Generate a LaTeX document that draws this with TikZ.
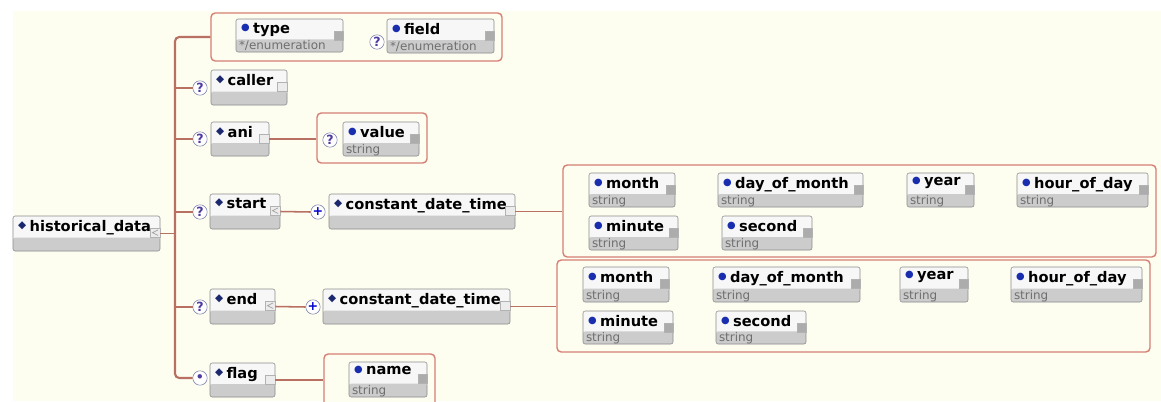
\documentclass[tikz,border=0pt]{standalone}
\usepackage{fontspec}
\setmainfont{DejaVu Sans}
\usetikzlibrary{positioning, fit, calc}

\definecolor{bgcream}{RGB}{253,253,240}
\definecolor{linkred}{RGB}{184,112,98}
\definecolor{grpred}{RGB}{214,128,116}
\definecolor{boxline}{RGB}{140,140,140}
\definecolor{boxlow}{RGB}{204,204,204}
\definecolor{boxtop}{RGB}{247,247,247}
\definecolor{typegrey}{RGB}{110,110,110}
\definecolor{mknavy}{RGB}{28,40,110}
\definecolor{mkblue}{RGB}{25,45,175}
\definecolor{qline}{RGB}{120,125,170}
\definecolor{qtext}{RGB}{80,60,160}

\NewDocumentCommand{\mkdia}{}{\raisebox{1.8pt}{\textcolor{mknavy}{\fontsize{7.5}{8}\selectfont ◆}}}
\NewDocumentCommand{\mkdot}{}{\raisebox{1.8pt}{\textcolor{mkblue}{\fontsize{7}{7}\selectfont ●}}}
% box, name, type and icon of one element
\NewDocumentCommand{\elem}{m m m m m m m}{%
  \node[elembox, fit={(#2) (#3)}] (#1) {};
  \node[elemname] (#1-name) at ($(#1.north west)+(5,4)$) {#4\kern2.5pt#5};
  \node[elemtype] (#1-type) at ($(#1.south west)+(3,-3)$) {#6};
  \node[#7] (#1-icon) at ($(#1.north east)+(-5,17)$) {};
}

\begin{document}
\begin{tikzpicture}[x=0.025cm, y=-0.025cm,
    elembox/.style={draw=boxline, fill=boxtop, rounded corners=1.5pt, inner sep=0pt,
      path picture={\fill[boxlow] (path picture bounding box.south west) rectangle
        ($(path picture bounding box.north east)!0.62!(path picture bounding box.south east)$);}},
    elemname/.style={anchor=north west, inner sep=0pt, font=\bfseries\fontsize{10.4}{12}\selectfont},
    elemtype/.style={anchor=base west, inner sep=0pt, text=typegrey, font=\fontsize{8.5}{10}\selectfont},
    grp/.style={draw=grpred, line width=1pt, rounded corners=3pt, fill=bgcream, inner sep=0pt},
    link/.style={draw=linkred, line width=1.1pt},
    spine/.style={draw=linkred, line width=1.5pt, rounded corners=3pt},
    opt/.style={circle, draw=qline, fill=white, minimum size=0.36cm, inner sep=0pt,
      text=qtext, font=\bfseries\fontsize{9}{9}\selectfont},
    plus/.style={opt, text=blue!80!black},
    iconsimple/.style={rectangle, draw=gray!60, fill=gray!65, minimum size=0.225cm, inner sep=0pt},
    iconcomplex/.style={rectangle, draw=gray!60, fill=gray!15, minimum size=0.24cm, inner sep=0pt},
    iconseq/.style={iconcomplex, path picture={\draw[gray!75, line width=0.5pt]
      ($(path picture bounding box.north east)+(-2,2)$) -- ($(path picture bounding box.west)+(2,0)$)
      -- ($(path picture bounding box.south east)+(-2,-2)$);}}]

  \useasboundingbox (0,0) rectangle (1161,401);
  \clip (0,0) rectangle (1161,401);
  \fill[white] (0,0) rectangle (1161,401);
  \fill[bgcream] (13,11) rectangle (1161,401);

  \coordinate (spinetop) at (175,37);
  \coordinate (spinebot) at (175,378);

  % root
  \elem{hist}{13,216}{160,251}{\mkdia}{historical\_data}{}{iconseq}

  % attributes
  \node[grp, fit={(211,13) (502,61)}] (typegrp) {};
  \elem{type}{236,19}{343,52}{\mkdot}{type}{*/enumeration}{iconsimple}
  \node[opt] (fieldq) at (377,42) {?};
  \elem{field}{387,19}{494,53}{\mkdot}{field}{*/enumeration}{iconsimple}

  \node[opt] (callerq) at (200,88) {?};
  \elem{caller}{211,70}{287,105}{\mkdia}{caller}{}{iconcomplex}

  \node[opt] (aniq) at (200,139) {?};
  \elem{ani}{211,122}{269,156}{\mkdia}{ani}{}{iconcomplex}
  \node[grp, fit={(317,113) (427,163)}] (valgrp) {};
  \node[opt] (valq) at (330,140) {?};
  \elem{value}{343,122}{419,156}{\mkdot}{value}{string}{iconsimple}

  % start
  \node[opt] (startq) at (200,212) {?};
  \elem{start}{210,194}{280,229}{\mkdia}{start}{}{iconseq}
  \node[plus] (startp) at (318,212) {+};
  \elem{cdta}{329,194}{515,229}{\mkdia}{constant\_date\_time}{}{iconcomplex}
  \node[grp, fit={(563,165) (1156,257)}] (grpa) {};
  \elem{montha}{589,173}{675,207}{\mkdot}{month}{string}{iconsimple}
  \elem{daya}{718,173}{863,207}{\mkdot}{day\_of\_month}{string}{iconsimple}
  \elem{yeara}{907,173}{974,207}{\mkdot}{year}{string}{iconsimple}
  \elem{houra}{1017,173}{1148,207}{\mkdot}{hour\_of\_day}{string}{iconsimple}
  \elem{minutea}{589,216}{678,250}{\mkdot}{minute}{string}{iconsimple}
  \elem{seconda}{722,216}{812,250}{\mkdot}{second}{string}{iconsimple}

  % end
  \node[opt] (endq) at (200,307) {?};
  \elem{end}{210,289}{275,324}{\mkdia}{end}{}{iconseq}
  \node[plus] (endp) at (313,307) {+};
  \elem{cdtb}{323,289}{510,324}{\mkdia}{constant\_date\_time}{}{iconcomplex}
  \node[grp, fit={(557,260) (1150,352)}] (grpb) {};
  \elem{monthb}{583,267}{669,302}{\mkdot}{month}{string}{iconsimple}
  \elem{dayb}{713,267}{860,302}{\mkdot}{day\_of\_month}{string}{iconsimple}
  \elem{yearb}{900,267}{968,302}{\mkdot}{year}{string}{iconsimple}
  \elem{hourb}{1011,267}{1142,302}{\mkdot}{hour\_of\_day}{string}{iconsimple}
  \elem{minuteb}{583,311}{673,344}{\mkdot}{minute}{string}{iconsimple}
  \elem{secondb}{716,311}{806,344}{\mkdot}{second}{string}{iconsimple}

  % flag
  \node[opt] (flagq) at (200,378) {•};
  \elem{flag}{210,363}{275,397}{\mkdia}{flag}{}{iconcomplex}
  \node[grp, fit={(324,354) (435,410)}] (namegrp) {};
  \elem{name}{349,362}{427,397}{\mkdot}{name}{string}{iconsimple}

  % connectors
  \draw[spine] (typegrp.west) -- (spinetop) -- (spinebot) -- (flagq.west);
  \draw[link] (hist.east) -- (hist.east -| spinetop);
  \foreach \q in {callerq, aniq, startq, endq}
    \draw[link] (\q.west -| spinetop) -- (\q.west);
  \draw[link] (ani.east) -- (ani.east -| valgrp.west);
  \draw[link] (start.east) -- (startp.west);
  \draw[link] (cdta.east) -- (cdta.east -| grpa.west);
  \draw[link] (end.east) -- (endp.west);
  \draw[link] (cdtb.east) -- (cdtb.east -| grpb.west);
  \draw[link] (flag.east) -- (flag.east -| namegrp.west);
\end{tikzpicture}
\end{document}
